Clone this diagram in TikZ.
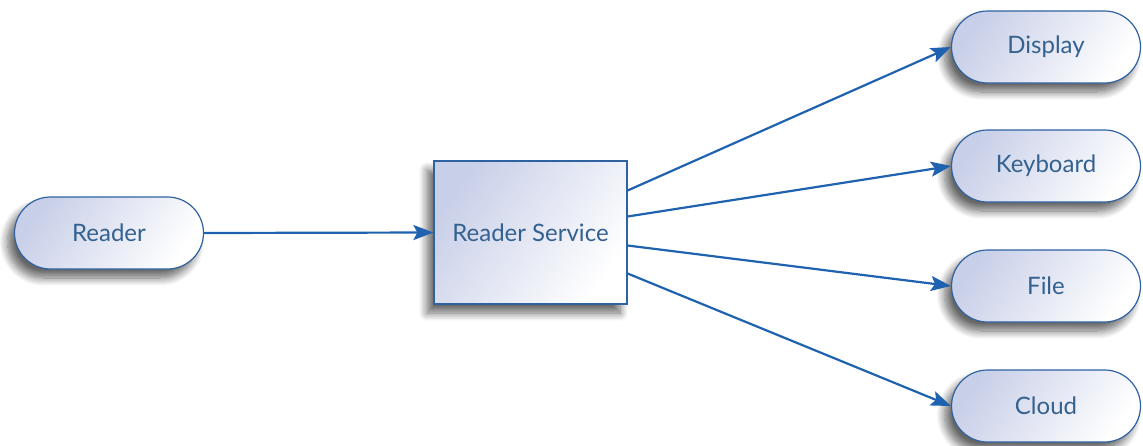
\documentclass[tikz,border=0pt]{standalone}
\usepackage{fontspec}
\setmainfont{Lato}
\usetikzlibrary{arrows.meta,shadows.blur}
\definecolor{edgeblue}{HTML}{2E62A0}
\definecolor{arrowblue}{HTML}{1E62B0}
\definecolor{fillblue}{HTML}{C8CFE8}
\definecolor{textblue}{HTML}{34618F}
\tikzset{
  base/.style={draw=edgeblue, line width=1.2pt, left color=fillblue, right color=white,
    shading angle=55, text=textblue, font=\fontsize{24}{28}\selectfont,
    blur shadow={shadow xshift=-7pt, shadow yshift=-9pt, shadow blur steps=10, shadow blur radius=8pt, shadow opacity=60}},
  pill/.style={base, rectangle, rounded corners=36pt, minimum width=189pt, minimum height=72pt, inner sep=0pt},
  servicebox/.style={base, rectangle, minimum width=193pt, minimum height=143pt, inner sep=0pt},
  conn/.style={draw=arrowblue, line width=2.2pt, -{Stealth[length=20pt,width=15pt,inset=4pt]}}
}
\begin{document}
\begin{tikzpicture}[x=1pt,y=-1pt]
\useasboundingbox (0,0) rectangle (1143,445);
\node[pill] (reader) at (109,233) {Reader};
\node[servicebox] (service) at (530.5,232.5) {Reader Service};
\node[pill] (display) at (1046,47) {Display};
\node[pill] (keyboard) at (1046,166) {Keyboard};
\node[pill] (file) at (1046,286) {File};
\node[pill] (cloud) at (1046,406) {Cloud};
\draw[conn] (reader.east) -- (service.west);
\draw[conn] ([yshift=42pt]service.east) -- (display.west);
\draw[conn] ([yshift=16pt]service.east) -- (keyboard.west);
\draw[conn] ([yshift=-13pt]service.east) -- (file.west);
\draw[conn] ([yshift=-41pt]service.east) -- (cloud.west);
\end{tikzpicture}
\end{document}
